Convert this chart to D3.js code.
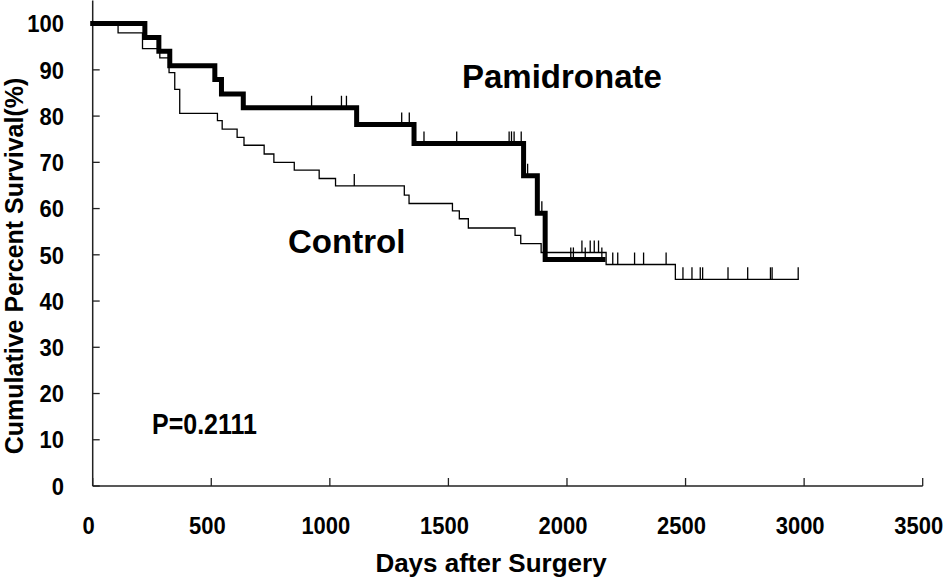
<!DOCTYPE html>
<html>
<head>
<meta charset="utf-8">
<script src="https://cdn.jsdelivr.net/npm/d3@7"></script>
<style>
  body { margin: 0; background: #fff; }
  svg text { font-family: "Liberation Sans", Arial, sans-serif; font-weight: bold; fill: #000; }
</style>
</head>
<body>
<svg id="vis_svg" width="945" height="580"></svg>
<script>
// step data (days, percent surviving)
const pamTimes = [0, 220, 279, 325, 515, 543, 635, 1113, 1355, 1817, 1875, 1908];
const pamSurv = [100, 97.0, 94.0, 90.9, 87.9, 84.8, 81.8, 78.2, 74.1, 67.1, 59.0, 49.0];
const pamEnd = 2152;
const pamCensored = [923, 1049, 1070, 1303, 1335, 1397, 1535, 1756, 1766, 1777, 1807, 1834, 1894, 2016, 2027, 2077, 2147];

const ctlTimes = [0, 107, 210, 283, 322, 346, 367, 526, 546, 609, 638, 723, 764, 850, 955, 1024,
  1314, 1334, 1517, 1546, 1584, 1781, 1805, 1891, 2165, 2457];
const ctlSurv = [100, 98.0, 94.6, 92.6, 89.4, 85.8, 80.6, 79.0, 77.2, 75.4, 73.7, 71.8, 70.0, 68.3, 66.5, 64.9,
  62.9, 61.1, 59.5, 57.8, 55.8, 54.2, 52.4, 50.5, 47.9, 44.7];
const ctlEnd = 2975;
const ctlCensored = [1103, 2063, 2098, 2115, 2133, 2193, 2214, 2285, 2323, 2418, 2489, 2527, 2562, 2572,
  2679, 2762, 2858, 2865, 2975];

const xTicks = [0, 500, 1000, 1500, 2000, 2500, 3000, 3500];
const yTicks = [0, 10, 20, 30, 40, 50, 60, 70, 80, 90, 100];

const svg = d3.select('#vis_svg');

const xScale = d3.scaleLinear().domain([0, 3500]).range([92.7, 922.7]);
const yScale = d3.scaleLinear().domain([0, 105]).range([486, 0.5]);

/**
 * Axes: ticks point inward, labels drawn separately to match the layout.
 */
const gx = svg.append('g').attr('transform', 'translate(0,486)');
gx.append('line')
  .attr('x1', xScale(0)).attr('x2', xScale(3500))
  .attr('stroke', '#222').attr('stroke-width', 1.5);
gx.selectAll('.xt').data(xTicks).enter().append('line')
  .attr('x1', (d) => xScale(d)).attr('x2', (d) => xScale(d))
  .attr('y1', 0).attr('y2', -8)
  .attr('stroke', '#222').attr('stroke-width', 1.3);
gx.selectAll('.xl').data(xTicks).enter().append('text')
  .attr('transform', (d) => `translate(${xScale(d) - 4},48) scale(1,1.1)`)
  .attr('text-anchor', 'middle')
  .style('font-size', '22px')
  .text((d) => d);

const gy = svg.append('g').attr('transform', 'translate(92.7,0)');
gy.append('line')
  .attr('y1', yScale(0)).attr('y2', yScale(105))
  .attr('stroke', '#222').attr('stroke-width', 1.5);
gy.selectAll('.yt').data(yTicks).enter().append('line')
  .attr('y1', (d) => yScale(d)).attr('y2', (d) => yScale(d))
  .attr('x1', 0).attr('x2', 7)
  .attr('stroke', '#222').attr('stroke-width', 1.3);
gy.selectAll('.yl').data(yTicks).enter().append('text')
  .attr('transform', (d) => `translate(-28.7,${yScale(d)}) scale(1,1.1)`)
  .attr('dy', '0.36em')
  .attr('text-anchor', 'end')
  .style('font-size', '22px')
  .text((d) => d);

/**
 * Kaplan-Meier style step curves.
 */
const stepLine = d3.line()
  .x((d) => xScale(d[0]))
  .y((d) => yScale(d[1]))
  .curve(d3.curveStepAfter);

const survAt = (times, surv, t) => surv[d3.bisectRight(times, t) - 1];

const drawCurve = (times, surv, end, censored, width) => {
  const pts = times.map((t, i) => [t, surv[i]]);
  pts.push([end, surv[surv.length - 1]]);
  svg.append('path')
    .datum(pts)
    .attr('d', stepLine)
    .attr('fill', 'none')
    .attr('stroke', '#000')
    .attr('stroke-width', width)
    .attr('stroke-linejoin', 'miter')
    .attr('stroke-linecap', 'square');

  svg.selectAll(null)
    .data(censored)
    .enter()
    .append('line')
    .attr('x1', (d) => xScale(d))
    .attr('x2', (d) => xScale(d))
    .attr('y1', (d) => yScale(survAt(times, surv, d)))
    .attr('y2', (d) => yScale(survAt(times, surv, d)) - 12)
    .attr('stroke', '#000')
    .attr('stroke-width', 1.3);
};

drawCurve(ctlTimes, ctlSurv, ctlEnd, ctlCensored, 1.3);
drawCurve(pamTimes, pamSurv, pamEnd, pamCensored, 5);

/**
 * Labels.
 */
svg.append('text')
  .attr('x', 462).attr('y', 88)
  .style('font-size', '33px')
  .text('Pamidronate');

svg.append('text')
  .attr('x', 288).attr('y', 253)
  .style('font-size', '33px')
  .text('Control');

svg.append('text')
  .attr('transform', 'translate(152,434) scale(1,1.15)')
  .style('font-size', '25px')
  .text('P=0.2111');

svg.append('text')
  .attr('x', 491).attr('y', 572)
  .attr('text-anchor', 'middle')
  .style('font-size', '26px')
  .text('Days after Surgery');

svg.append('text')
  .attr('transform', 'translate(23,266) rotate(-90)')
  .attr('text-anchor', 'middle')
  .style('font-size', '25px')
  .text('Cumulative Percent Survival(%)');
</script>
</body>
</html>
